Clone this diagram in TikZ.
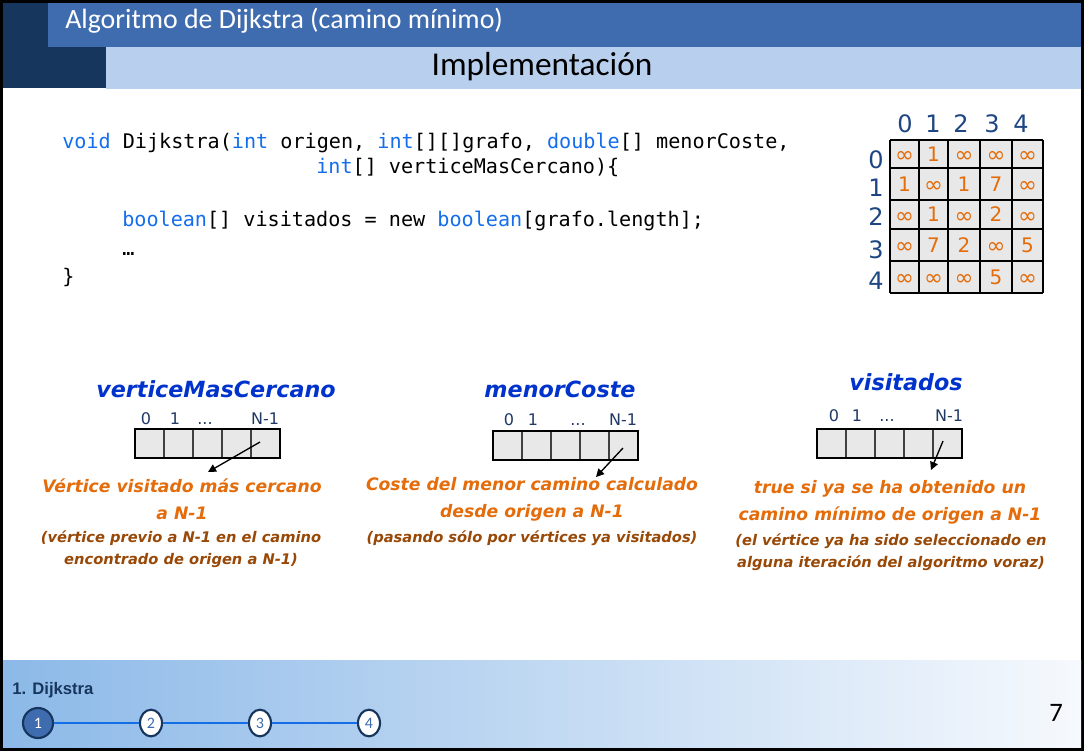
\documentclass[tikz,border=0pt]{standalone}
\usepackage{fontspec}
\usetikzlibrary{arrows.meta,shapes.geometric}
\newfontfamily\verd{DejaVu Sans}
\newfontfamily\calib{Carlito}
\newfontfamily\mono{DejaVu Sans Mono}
\newfontfamily\arialf{Liberation Sans}

\definecolor{navy}{RGB}{23,54,93}
\definecolor{midblue}{RGB}{63,108,175}
\definecolor{paleblue}{RGB}{184,207,238}
\definecolor{kw}{RGB}{20,110,235}
\definecolor{orangeT}{RGB}{228,108,10}
\definecolor{brownT}{RGB}{152,72,7}
\definecolor{titleblue}{RGB}{0,51,204}
\definecolor{idxblue}{RGB}{31,56,100}
\definecolor{hdrblue}{RGB}{30,70,130}
\definecolor{cellgray}{RGB}{232,232,232}
\definecolor{lineblue}{RGB}{20,110,230}
\definecolor{footL}{RGB}{140,185,232}
\definecolor{footR}{RGB}{246,249,253}

\newcommand\kwd[1]{\textcolor{kw}{#1}}
\def\infmark{i}

\tikzset{
  code/.style={anchor=base west, inner sep=0pt, font=\mono\fontsize{15.1pt}{17pt}\selectfont},
  hdr/.style={inner sep=0pt, text=hdrblue, font=\verd\fontsize{18pt}{20pt}\selectfont},
  val/.style={inner sep=0pt, text=orangeT, font=\verd\fontsize{15pt}{17pt}\selectfont},
  inf/.style={anchor=base, inner sep=0pt, text=orangeT, font=\verd\fontsize{17pt}{19pt}\selectfont},
  arrtitle/.style={inner sep=0pt, text=titleblue, font=\verd\bfseries\itshape\fontsize{16.7pt}{19pt}\selectfont},
  idx/.style={anchor=base, inner sep=0pt, text=idxblue, font=\verd\fontsize{12pt}{14pt}\selectfont},
  cellbox/.style={draw=black!75, line width=1.1pt, fill=cellgray, minimum width=21.75pt, minimum height=21.75pt, inner sep=0pt},
  desc/.style={inner sep=0pt, align=center, text=orangeT, font=\verd\bfseries\itshape\fontsize{12.9pt}{20.25pt}\selectfont},
  note/.style={inner sep=0pt, align=center, text=brownT, font=\verd\bfseries\itshape\fontsize{11pt}{16.5pt}\selectfont},
  pointer/.style={draw=black, line width=1pt, -{Triangle[length=6pt,width=6pt]}},
  stepdot/.style={ellipse, draw=navy, line width=1.6pt, fill=white, minimum width=16.5pt, minimum height=20pt, inner sep=0pt, text=midblue, font=\calib\fontsize{12pt}{14pt}\selectfont},
}

\begin{document}
\begin{tikzpicture}[x=0.75pt, y=-0.75pt]
\useasboundingbox (0,0) rectangle (1084,751);

% slide frame
\fill[black] (0,0) rectangle (1084,751);
\fill[white] (3,3) rectangle (1081,747);

% title bands
\fill[midblue] (48,3) rectangle (1081,47);
\fill[paleblue] (106,47) rectangle (1081,89);
\fill[navy] (3,3) rectangle (48,47);
\fill[navy] (3,47) rectangle (106,88);
\node[anchor=west, inner sep=0pt, text=white, font=\calib\fontsize{20.9pt}{23pt}\selectfont] (title) at (65,21) {Algoritmo de Dijkstra (camino mínimo)};
\node[inner sep=0pt, text=black, font=\calib\fontsize{25pt}{27pt}\selectfont] (subtitle) at (542,67) {Implementación};

% code
\node[code] (c1) at (62,148) {\kwd{void} Dijkstra(\kwd{int} origen, \kwd{int}[][]grafo, \kwd{double}[] menorCoste,};
\node[code] (c2) at (316,173) {\kwd{int}[] verticeMasCercano)\{};
\node[code] (c3) at (122,226) {\kwd{boolean}[] visitados = new \kwd{boolean}[grafo.length];};
\node[code] (c4) at (122,255) {…};
\node[code] (c5) at (62,283) {\}};

% adjacency matrix
\fill[cellgray] (890,140) rectangle (1043,293);
\foreach \x in {890,919,948,980,1012,1043} \draw[black, line width=1pt] (\x,140) -- (\x,293);
\foreach \y in {140,168,200,229,261,293} \draw[black, line width=1pt] (890,\y) -- (1043,\y);
\foreach \x [count=\i from 0] in {905,933,961,992,1021}
  \node[hdr] (ch\i) at (\x,124) {\i};
\foreach \y [count=\i from 0] in {160,188,217,250,281}
  \node[hdr] (rh\i) at (876,\y) {\i};
\foreach \r/\y/\vals in {0/154/{i,1,i,i,i}, 1/184/{1,i,1,7,i}, 2/214.5/{i,1,i,2,i}, 3/245/{i,7,2,i,5}, 4/277/{i,i,i,5,i}} {
  \foreach \v [count=\c from 0] in \vals {
    \pgfmathsetmacro\cx{{904.5,933.5,964,996,1027.5}[\c]}
    \ifx\v\infmark
      \node[inf] (m\r\c) at (\cx,\y+8.5) {∞};
    \else
      \node[val] (m\r\c) at (\cx,\y) {\v};
    \fi
  }
}

% array: verticeMasCercano
\node[arrtitle] (t1) at (216,389) {verticeMasCercano};
\node[idx] (a1i0) at (146,424) {0};
\node[idx] (a1i1) at (175,424) {1};
\node[idx] (a1i2) at (205,424) {...};
\node[idx] (a1i4) at (265,424) {N-1};
\foreach \k in {0,...,4}
  \node[cellbox] (a1c\k) at (149.5+29*\k,443.5) {};
\draw[black, line width=1.5pt] (135,429) rectangle (280,458);
\coordinate (a1s) at (260,442);
\coordinate (a1e) at (208,472);
\draw[pointer] (a1s) -- (a1e);
\node[desc] (d1) at (182,499.5) {Vértice visitado más cercano\\a N-1};
\node[note] (n1) at (181,549) {(vértice previo a N-1 en el camino\\encontrado de origen a N-1)};

% array: menorCoste
\node[arrtitle] (t2) at (560,389) {menorCoste};
\node[idx] (a2i0) at (509,425) {0};
\node[idx] (a2i1) at (533,425) {1};
\node[idx] (a2i2) at (578,425) {...};
\node[idx] (a2i4) at (623,425) {N-1};
\foreach \k in {0,...,4}
  \node[cellbox] (a2c\k) at (507.5+29*\k,445.5) {};
\draw[black, line width=1.5pt] (493,431) rectangle (638,460);
\coordinate (a2s) at (623,448);
\coordinate (a2e) at (596,477);
\draw[pointer] (a2s) -- (a2e);
\node[desc] (d2) at (532,499.5) {Coste del menor camino calculado\\desde origen a N-1};
\node[note] (n2) at (532,538) {(pasando sólo por vértices ya visitados)};

% array: visitados
\node[arrtitle] (t3) at (906,382) {visitados};
\node[idx] (a3i0) at (834,421) {0};
\node[idx] (a3i1) at (857,421) {1};
\node[idx] (a3i2) at (887,421) {...};
\node[idx] (a3i4) at (949,421) {N-1};
\foreach \k in {0,...,4}
  \node[cellbox] (a3c\k) at (831.5+29*\k,443.5) {};
\draw[black, line width=1.5pt] (817,429) rectangle (962,458);
\coordinate (a3s) at (943,441);
\coordinate (a3e) at (931,470);
\draw[pointer] (a3s) -- (a3e);
\node[desc] (d3) at (890,502) {true si ya se ha obtenido un\\camino mínimo de origen a N-1};
\node[note] (n3) at (891,552) {(el vértice ya ha sido seleccionado en\\alguna iteración del algoritmo voraz)};

% footer
\shade[left color=footL, right color=footR] (3,660) rectangle (1081,747);
\node[anchor=west, inner sep=0pt, text=navy, font=\arialf\bfseries\fontsize{12.5pt}{14pt}\selectfont] (sect) at (12,690) {1. Dijkstra};
\node[circle, draw=navy, line width=1.6pt, fill=midblue, minimum size=22.5pt, inner sep=0pt, text=white, font=\calib\fontsize{12pt}{14pt}\selectfont] (s1) at (38,723) {1};
\node[stepdot] (s2) at (151,723) {2};
\node[stepdot] (s3) at (260,723) {3};
\node[stepdot] (s4) at (369,723) {4};
\draw[lineblue, line width=1.5pt] (s1) -- (s2);
\draw[lineblue, line width=1.5pt] (s2) -- (s3);
\draw[lineblue, line width=1.5pt] (s3) -- (s4);
\node[inner sep=0pt, text=black, font=\calib\fontsize{20pt}{22pt}\selectfont] (page) at (1056,713) {7};
\end{tikzpicture}
\end{document}
